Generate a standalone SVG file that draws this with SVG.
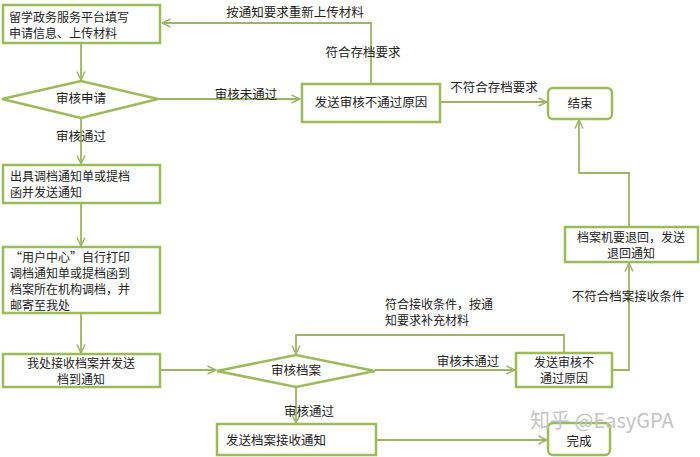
<svg xmlns="http://www.w3.org/2000/svg" width="700" height="457" viewBox="0 0 700 457">
<style>
.box{fill:#ffffff;stroke:#9bbb59;stroke-width:2.5}
.ln{fill:none;stroke:#9db465;stroke-width:1.8}
text{font-family:"Noto Sans CJK SC","Liberation Sans",sans-serif;font-size:12.5px;fill:#222}
.c{text-anchor:middle}
.s{font-size:12px}
.wm{font-family:"Noto Sans CJK SC","Liberation Sans",sans-serif;font-size:20px;fill:#c4c4c4}
</style>
<defs>
<marker id="arr" viewBox="0 0 10 10" refX="9.5" refY="5" markerWidth="10" markerHeight="10" markerUnits="userSpaceOnUse" orient="auto">
<path d="M1,1 L9.5,5 L1,9" fill="none" stroke="#9db465" stroke-width="1.5"/>
</marker>
</defs>
<rect width="700" height="457" fill="#ffffff"/>
<g id="connectors">
<path class="ln" d="M81,43 V80" marker-end="url(#arr)"/>
<path class="ln" d="M81,118 V164" marker-end="url(#arr)"/>
<path class="ln" d="M158,99 H300" marker-end="url(#arr)"/>
<path class="ln" d="M371,83 V23 H162" marker-end="url(#arr)"/>
<path class="ln" d="M440,102 H547" marker-end="url(#arr)"/>
<path class="ln" d="M629,227 V173 H579 V120" marker-end="url(#arr)"/>
<path class="ln" d="M81,203 V246" marker-end="url(#arr)"/>
<path class="ln" d="M81,313 V353" marker-end="url(#arr)"/>
<path class="ln" d="M160,370 H216" marker-end="url(#arr)"/>
<path class="ln" d="M375,370 H515" marker-end="url(#arr)"/>
<path class="ln" d="M564,353 V335 H296 V354" marker-end="url(#arr)"/>
<path class="ln" d="M612,370 H629 V263" marker-end="url(#arr)"/>
<path class="ln" d="M296,387 V423" marker-end="url(#arr)"/>
<path class="ln" d="M376,440 H547" marker-end="url(#arr)"/>
<text x="295" y="17" class="c">按通知要求重新上传材料</text>
<text x="363" y="57" class="c">符合存档要求</text>
<text x="246" y="99" class="c">审核未通过</text>
<text x="81" y="141" class="c">审核通过</text>
<text x="494" y="92" class="c">不符合存档要求</text>
<text x="628" y="301" class="c">不符合档案接收条件</text>
<text x="385" y="309" class="s">符合接收条件，按通</text>
<text x="385" y="325" class="s">知要求补充材料</text>
<text x="468" y="366" class="c">审核未通过</text>
<text x="309" y="416" class="c">审核通过</text>
</g>
<g id="n1">
<rect class="box" x="3" y="5" width="157" height="38"/>
<text x="9" y="22" class="s">留学政务服务平台填写</text>
<text x="9" y="38" class="s">申请信息、上传材料</text>
</g>
<g id="n2">
<polygon class="box" points="2,99 81,81 158,99 81,118"/>
<text x="81" y="103" class="c">审核申请</text>
</g>
<g id="n3">
<rect class="box" x="302" y="84" width="138" height="38"/>
<text x="371" y="107" class="c">发送审核不通过原因</text>
</g>
<g id="n4">
<rect class="box" x="548" y="88" width="64" height="31" rx="5"/>
<text x="580" y="108" class="c">结束</text>
</g>
<g id="n5">
<rect class="box" x="3" y="165" width="157" height="38"/>
<text x="10" y="181" class="s">出具调档通知单或提档</text>
<text x="10" y="197" class="s">函并发送通知</text>
</g>
<g id="n6">
<rect class="box" x="3" y="247" width="157" height="66"/>
<text x="10" y="262" class="s">“用户中心”自行打印</text>
<text x="10" y="278" class="s">调档通知单或提档函到</text>
<text x="10" y="294" class="s">档案所在机构调档，并</text>
<text x="10" y="310" class="s">邮寄至我处</text>
</g>
<g id="n7">
<rect class="box" x="3" y="354" width="157" height="33"/>
<text x="81" y="368" class="c s">我处接收档案并发送</text>
<text x="81" y="384" class="c s">档到通知</text>
</g>
<g id="n8">
<polygon class="box" points="217,371 296,355 375,371 296,387"/>
<text x="296" y="375" class="c">审核档案</text>
</g>
<g id="n9">
<rect class="box" x="516" y="353" width="96" height="34"/>
<text x="564" y="367" class="c s">发送审核不</text>
<text x="564" y="383" class="c s">通过原因</text>
</g>
<g id="n10">
<rect class="box" x="565" y="227" width="133" height="35"/>
<text x="631" y="242" class="c s">档案机要退回，发送</text>
<text x="631" y="258" class="c s">退回通知</text>
</g>
<g id="n11">
<rect class="box" x="217" y="424" width="159" height="31"/>
<text x="226" y="445">发送档案接收通知</text>
</g>
<g id="n12">
<rect class="box" x="548" y="423" width="62" height="32" rx="5"/>
<text x="579" y="446" class="c">完成</text>
</g>
<text x="530" y="428" class="wm">知乎 @EasyGPA</text>
</svg>
